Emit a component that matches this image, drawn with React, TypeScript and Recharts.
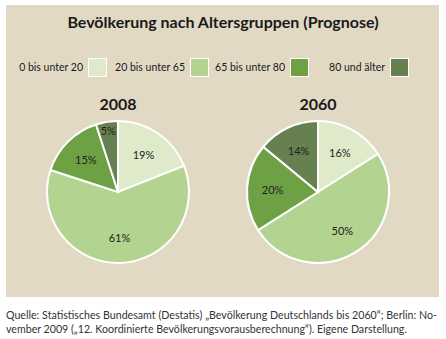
import React, { useLayoutEffect, useRef, useState } from 'react';
import { PieChart, Pie, Cell } from 'recharts';

const categories = ['0 bis unter 20', '20 bis unter 65', '65 bis unter 80', '80 und älter'];
const years = ['2008', '2060'];
const values2008 = [19, 61, 15, 5];
const values2060 = [16, 50, 20, 14];
const colors = ['#dfeacb', '#b2d490', '#6ea044', '#66804f'];

const title = 'Bevölkerung nach Altersgruppen (Prognose)';
const sourceLine1 = 'Quelle: Statistisches Bundesamt (Destatis) „Bevölkerung Deutschlands bis 2060“; Berlin: No-';
const sourceLine2 = 'vember 2009 („12. Koordinierte Bevölkerungsvorausberechnung“). Eigene Darstellung.';

const data2008 = categories.map((name, i) => ({ name, value: values2008[i] }));
const data2060 = categories.map((name, i) => ({ name, value: values2060[i] }));

const FONT = 'Lato, "Open Sans", sans-serif';
const RADIAN = Math.PI / 180;

const renderLabel = (p: any) => {
  const { cx, cy, midAngle, outerRadius, value, percent } = p;
  const r = percent < 0.08 ? outerRadius * 0.87 : outerRadius * 0.64;
  const x = cx + r * Math.cos(-midAngle * RADIAN);
  const y = cy + r * Math.sin(-midAngle * RADIAN);
  return (
    <text x={x} y={y} textAnchor="middle" dominantBaseline="central" fontSize={11} fill="#222" fontFamily={FONT}>
      {value}%
    </text>
  );
};

export default function App() {
  const [scale, setScale] = useState(0.95);
  const line2Ref = useRef<HTMLSpanElement>(null);
  useLayoutEffect(() => {
    if (line2Ref.current) {
      const w = line2Ref.current.offsetWidth;
      if (w > 0) setScale(401 / w);
    }
  }, []);

  const pies = [
    { year: years[0], data: data2008, cx: 118 },
    { year: years[1], data: data2060, cx: 318 },
  ];
  return (
    <div style={{ position: 'absolute', left: 0, top: 0, width: 446, height: 339, background: '#fff', fontFamily: FONT, overflow: 'hidden' }}>
      <div style={{ position: 'absolute', left: 6, top: 5, width: 433, height: 292, background: '#e2d9c4' }} />
      <div style={{ position: 'absolute', left: 0, width: 446, top: 12, textAlign: 'center', fontSize: 16, fontWeight: 700, color: '#1a1a1a', lineHeight: '20px' }}>
        {title}
      </div>
      {categories.map((c, i) => {
        const squareX = [88, 190, 290, 390][i];
        return (
          <React.Fragment key={c}>
            <div style={{ position: 'absolute', right: 446 - squareX + 5, top: 60, fontSize: 10.5, color: '#1a1a1a', lineHeight: '14px', whiteSpace: 'nowrap' }}>{c}</div>
            <div style={{ position: 'absolute', left: squareX, top: 58, width: 17, height: 17, background: colors[i], border: '1.5px solid #fff' }} />
          </React.Fragment>
        );
      })}
      {pies.map((p) => (
        <div key={p.year} style={{ position: 'absolute', left: p.cx - 50, width: 100, top: 94, textAlign: 'center', fontSize: 16, fontWeight: 700, color: '#1a1a1a', lineHeight: '20px' }}>
          {p.year}
        </div>
      ))}
      <div style={{ position: 'absolute', left: 0, top: 0 }}>
        <PieChart width={446} height={339} margin={{ top: 0, right: 0, bottom: 0, left: 0 }}>
          {pies.map((p) => (
            <Pie
              key={p.year}
              data={p.data}
              dataKey="value"
              nameKey="name"
              cx={p.cx}
              cy={192}
              outerRadius={71}
              startAngle={90}
              endAngle={-270}
              stroke="#fff"
              strokeWidth={2}
              label={renderLabel}
              labelLine={false}
              isAnimationActive={false}
            >
              {p.data.map((d, i) => (
                <Cell key={d.name} fill={colors[i]} />
              ))}
            </Pie>
          ))}
        </PieChart>
      </div>
      <div
        style={{
          position: 'absolute',
          left: 6,
          top: 308,
          width: 431 / scale,
          transform: `scaleX(${scale})`,
          transformOrigin: '0 0',
          fontSize: 11,
          lineHeight: '13.5px',
          color: '#333',
        }}
      >
        <div style={{ textAlign: 'justify', textAlignLast: 'justify', whiteSpace: 'nowrap' }}>{sourceLine1}</div>
        <div style={{ whiteSpace: 'nowrap' }}>
          <span ref={line2Ref}>{sourceLine2}</span>
        </div>
      </div>
    </div>
  );
}
